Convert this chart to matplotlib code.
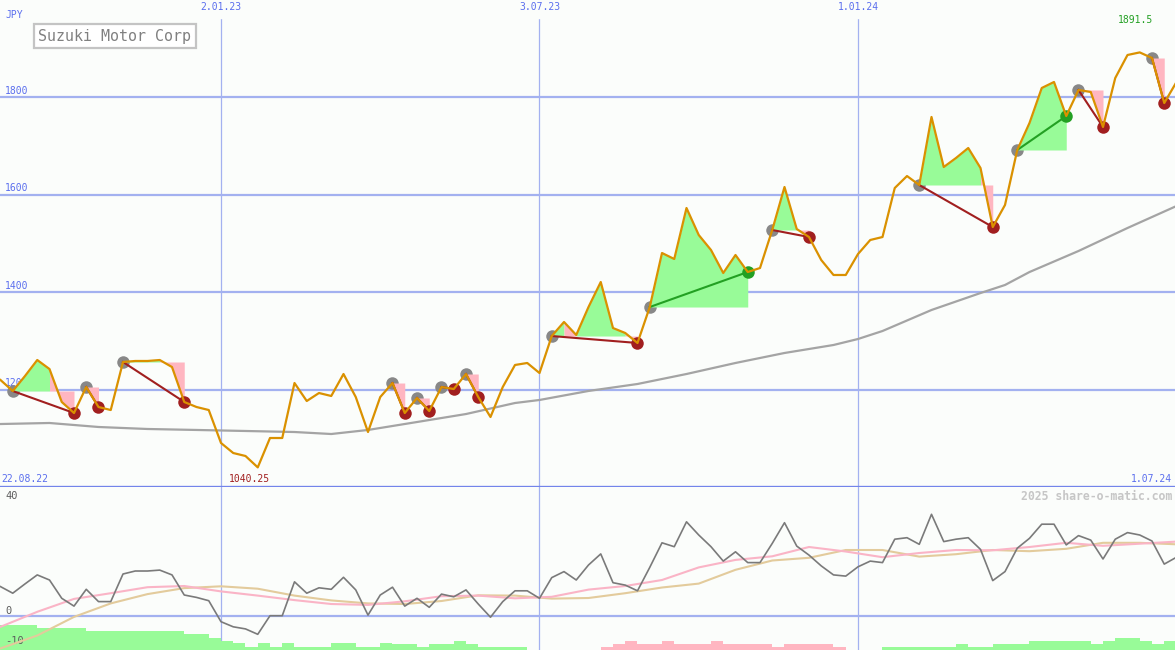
#!/usr/bin/env python3

import numpy as np
import matplotlib.pyplot as plt

# weekly closes, JPY (22.08.22 .. 1.07.24)
price = [1219.5, 1196.9, 1227.7, 1260.5, 1242.0, 1174.4, 1151.8, 1205.1, 1164.1, 1157.9,
         1256.4, 1258.5, 1258.5, 1260.5, 1246.1, 1174.4, 1164.1, 1157.9, 1090.3, 1069.7,
         1063.6, 1040.25, 1100.5, 1100.5, 1213.3, 1176.4, 1192.8, 1186.7, 1231.8, 1184.6,
         1112.8, 1184.6, 1213.3, 1151.8, 1182.6, 1155.9, 1205.1, 1201.0, 1231.8, 1184.6,
         1143.6, 1205.1, 1250.3, 1254.4, 1233.8, 1309.7, 1338.5, 1311.8, 1369.2, 1420.5,
         1326.1, 1315.9, 1295.4, 1369.2, 1480.0, 1467.7, 1572.3, 1516.9, 1486.2, 1439.0,
         1475.9, 1441.0, 1449.2, 1527.2, 1615.4, 1529.2, 1512.8, 1465.6, 1434.9, 1434.9,
         1477.9, 1506.7, 1512.8, 1613.3, 1637.9, 1619.5, 1759.0, 1656.4, 1674.9, 1695.4,
         1654.4, 1533.3, 1578.5, 1691.3, 1746.7, 1818.5, 1830.8, 1761.0, 1814.4, 1810.3,
         1738.5, 1839.0, 1886.2, 1891.5, 1880.0, 1787.7, 1830.8]

# slow moving average (read at selected weeks)
ma_idx = [0, 4, 8, 12, 16, 20, 24, 27, 30, 34, 38, 42, 44, 48, 52, 56, 60, 64, 68, 70,
          72, 76, 80, 82, 84, 88, 92, 96]
ma_val = [1129.2, 1131.3, 1123.1, 1119.0, 1117.0, 1114.9, 1112.8, 1108.7, 1117.0, 1133.3,
          1149.7, 1172.3, 1178.5, 1197.0, 1211.3, 1231.8, 1254.4, 1274.9, 1291.3, 1303.6,
          1320.0, 1363.1, 1397.9, 1414.4, 1441.0, 1484.1, 1531.3, 1576.4]

# pattern start (grey dot) -> end dot, colour of end
patterns = [(1, 6, 'r'), (7, 8, 'r'), (10, 15, 'r'), (32, 33, 'r'), (34, 35, 'r'),
            (36, 37, 'r'), (38, 39, 'r'), (45, 52, 'r'), (53, 61, 'g'), (63, 66, 'r'),
            (75, 81, 'r'), (83, 87, 'g'), (88, 90, 'r'), (94, 95, 'r')]

# shaded areas: (from week, to week, level taken at week, colour)
fill_segs = [(1, 4, 1, 'g'), (4, 6, 1, 'p'), (7, 8, 7, 'p'), (10, 13, 10, 'g'),
             (13, 15, 10, 'p'), (32, 33, 32, 'p'), (34, 35, 34, 'p'), (36, 37, 36, 'p'),
             (38, 39, 38, 'p'), (45, 46, 45, 'g'), (46, 47, 45, 'p'), (47, 51, 45, 'g'),
             (51, 52, 45, 'p'), (53, 61, 53, 'g'), (63, 65, 63, 'g'), (65, 66, 63, 'p'),
             (75, 80, 75, 'g'), (80, 81, 75, 'p'), (83, 87, 83, 'g'), (88, 90, 88, 'p'),
             (94, 95, 94, 'p')]

# lower panel oscillator
osc = [9.8, 7.6, 10.7, 13.7, 12.0, 5.9, 3.3, 8.9, 4.8, 4.8,
       14.0, 15.0, 15.0, 15.3, 13.7, 7.0, 6.2, 5.1, -1.9, -3.6,
       -4.3, -6.1, 0.1, 0.1, 11.4, 7.6, 9.4, 8.9, 12.9, 8.7,
       0.3, 7.0, 9.6, 3.3, 5.9, 2.9, 7.3, 6.4, 8.7, 4.0,
       -0.4, 4.8, 8.4, 8.4, 5.9, 12.8, 14.8, 12.0, 17.0, 20.7,
       11.1, 10.3, 8.4, 16.2, 24.4, 23.1, 31.4, 27.0, 23.1, 18.3,
       21.4, 17.8, 17.8, 24.2, 31.1, 23.3, 20.3, 16.7, 13.7, 13.3,
       16.4, 18.3, 17.8, 25.6, 26.1, 23.9, 33.9, 24.8, 25.6, 26.1,
       22.2, 11.8, 14.8, 22.6, 25.9, 30.6, 30.6, 23.7, 26.8, 25.3,
       19.0, 25.6, 27.8, 27.0, 25.0, 17.3, 19.6]

smooth_idx = [0, 3, 6, 9, 12, 15, 18, 21, 24, 27, 30, 33, 36, 39, 42, 45, 48, 51, 54,
              57, 60, 63, 66, 69, 72, 75, 78, 81, 84, 87, 90, 93, 96]
pink_val = [-3.6, 1.4, 5.7, 7.6, 9.6, 10.0, 8.2, 6.8, 5.3, 4.0, 3.7, 4.9, 6.6, 6.8, 5.9,
            6.4, 8.8, 10.0, 12.0, 16.2, 18.7, 19.9, 23.0, 21.5, 19.6, 21.0, 22.0, 21.9,
            23.0, 24.4, 23.4, 24.1, 24.8]
tan_val = [-10.8, -6.5, -0.3, 4.2, 7.3, 9.3, 9.9, 9.1, 6.8, 5.2, 4.2, 4.0, 5.0, 6.9, 6.8,
           5.8, 6.0, 7.6, 9.5, 10.8, 15.4, 18.5, 19.4, 22.0, 22.0, 19.8, 20.6, 22.0, 21.6,
           22.4, 24.4, 24.4, 23.9]

# histogram tops at the panel floor, nan = no bar
hist_top = [-3.0, -3.0, -3.0, -3.9, -3.9, -3.9, -3.9, -5.0, -5.0, -5.0,
            -5.0, -5.0, -5.0, -5.0, -5.0, -6.1, -6.1, -7.2, -8.3, -9.1,
            -10.2, -9.1, -10.2, -9.1, -10.2, -10.2, -10.2, -9.1, -9.1, -10.2,
            -10.2, -9.1, -9.3, -9.3, -10.2, -9.3, -9.3, -8.4, -9.3, -10.2,
            -10.2, -10.2, -10.2, np.nan, np.nan, np.nan, np.nan, np.nan, np.nan, -10.2,
            -9.3, -8.3, -9.3, -9.3, -8.3, -9.3, -9.3, -9.3, -8.3, -9.3,
            -9.3, -9.3, -9.3, -10.2, -9.3, -9.3, -9.3, -9.3, -10.2, np.nan,
            np.nan, np.nan, -10.2, -10.2, -10.2, -10.2, -10.2, -10.2, -9.3, -10.2,
            -10.2, -9.3, -9.3, -9.3, -8.3, -8.3, -8.3, -8.3, -8.3, -9.3,
            -8.3, -7.4, -7.4, -8.3, -9.3, -8.3]
hist_up = ['g'] * 49 + ['p'] * 23 + ['g'] * 24

grid_levels = [1200, 1400, 1600, 1800]
date_idx = [18, 44, 70]
date_labels = ['2.01.23', '3.07.23', '1.01.24']
first_label = '22.08.22'
last_label = '1.07.24'
osc_labels = [(40, '40'), (0, '0'), (-10, '-10')]

BG = '#FBFDFB'
ORANGE = '#DA9100'
GREEN_FILL = '#98FB98'
PINK_FILL = '#FFB6C1'
DARK_RED = '#A11F1F'
DARK_GREEN = '#23A023'
BLUE = '#5A6EEE'
GRID = '#A3B1F0'
MONO = 'DejaVu Sans Mono'

W, H = 1175, 650
SPLIT = 487
PX_PER_WEEK = 12.25


def main():
    fig = plt.figure(figsize=(W / 100, H / 100), dpi=100, facecolor=BG)
    ax = fig.add_axes([0, (H - SPLIT) / H, 1, SPLIT / H])
    ax2 = fig.add_axes([0, 0, 1, (H - SPLIT) / H])
    x = np.arange(len(price))
    p = np.array(price)

    for a in (ax, ax2):
        a.set_facecolor(BG)
        a.set_xlim(-0.5 / PX_PER_WEEK, (W - 0.5) / PX_PER_WEEK)
        for s in a.spines.values():
            s.set_visible(False)
        a.set_xticks([])
        a.set_yticks([])
        for d in date_idx:
            a.axvline(d, color=GRID, lw=0.9, zorder=1)

    ax.set_ylim(1000, 1999)
    ax2.set_ylim(-11.33, 43)

    # --- upper panel ---
    for lv in grid_levels:
        ax.axhline(lv, color=GRID, lw=1.6, zorder=1)
        ax.text(5 / W, lv + 3, str(lv), transform=ax.get_yaxis_transform(),
                fontsize=7, family=MONO, color=BLUE, va='bottom', zorder=0.5)
    ax.axhline(1000, color='#7384EA', lw=2.4, zorder=6)

    for d, lab in zip(date_idx, date_labels):
        ax.text(d, 1 - 2 / SPLIT, lab, transform=ax.get_xaxis_transform(),
                fontsize=7, family=MONO, color=BLUE, ha='center', va='top',
                backgroundcolor=BG, zorder=2)
    ax.text(5 / W, 1 - 15 / SPLIT, 'JPY', transform=ax.transAxes, fontsize=7,
            family=MONO, color=BLUE, va='center')
    ax.text(1 / W, 8 / SPLIT, first_label, transform=ax.transAxes, fontsize=7,
            family=MONO, color=BLUE, va='center')
    ax.text(1 - 3 / W, 8 / SPLIT, last_label, transform=ax.transAxes, fontsize=7,
            family=MONO, color=BLUE, va='center', ha='right')

    i_min = int(np.argmin(p))
    i_max = int(np.argmax(p))
    ax.text(i_min - 0.65, 8 / SPLIT, f'{p[i_min]:.2f}', transform=ax.get_xaxis_transform(),
            fontsize=7, family=MONO, color=DARK_RED, ha='center', va='center')
    ax.text(i_max - 0.35, 1 - 20 / SPLIT, f'{p[i_max]:g}', transform=ax.get_xaxis_transform(),
            fontsize=7, family=MONO, color=DARK_GREEN, ha='center', va='center')

    fig.text(38 / W, 1 - 36 / H, 'Suzuki Motor Corp', fontsize=10.8, family=MONO,
             color='#808080', va='center',
             bbox=dict(boxstyle='square,pad=0.3', fc='white', ec='#C4C4C4', lw=1.6))

    ax.plot(ma_idx, ma_val, color='#A4A4A4', lw=1.6, zorder=2)

    for s, e, c in patterns:
        ax.plot(x[s], p[s], 'o', ms=9, color='#888888', mec='none', zorder=3)

    for a, b, lvl, c in fill_segs:
        ax.fill_between(x[a:b + 1], p[lvl], p[a:b + 1], lw=0,
                        color=GREEN_FILL if c == 'g' else PINK_FILL, zorder=4)

    for s, e, c in patterns:
        col = DARK_GREEN if c == 'g' else DARK_RED
        ax.plot([x[s], x[e]], [p[s], p[e]], color=col, lw=1.5, zorder=5)
        ax.plot(x[e], p[e], 'o', ms=9, color=col, mec='none', zorder=6)

    ax.plot(x, p, color=ORANGE, lw=1.6, zorder=7)

    # --- lower panel ---
    ax2.axhline(0, color=GRID, lw=1.6, zorder=1)
    for v, lab in osc_labels:
        ax2.text(5 / W, v, lab, transform=ax2.get_yaxis_transform(), fontsize=7.5,
                 family=MONO, color='#5C5C5C', va='bottom' if v <= 0 else 'center')
    ax2.text(1 - 3 / W, 1 - 9 / (H - SPLIT), '2025 share-o-matic.com', transform=ax2.transAxes,
             fontsize=8.3, family=MONO, fontweight='bold', color='#C6C6C6',
             ha='right', va='center')

    floor = -20
    top = np.array(hist_top)
    cols = [GREEN_FILL if c == 'g' else PINK_FILL for c in hist_up]
    ax2.bar(x[:len(top)], top - floor, bottom=floor, width=1.0, align='edge',
            color=cols, lw=0, zorder=2)

    ax2.plot(smooth_idx, tan_val, color='#E3CB9C', lw=1.5, zorder=3)
    ax2.plot(smooth_idx, pink_val, color='#FAB4C6', lw=1.5, zorder=3)
    ax2.plot(x, osc, color='#7A7A7A', lw=1.2, zorder=4)

    plt.savefig('out.png', dpi=100, facecolor=BG)


if __name__ == '__main__':
    main()
